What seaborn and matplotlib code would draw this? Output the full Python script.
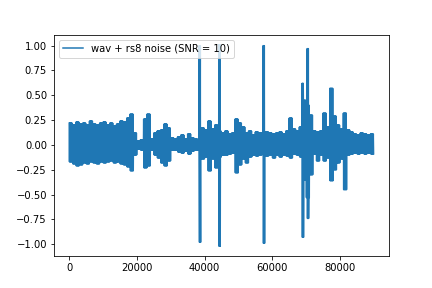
import numpy as np
import pandas as pd
import matplotlib
matplotlib.use("Agg")
import matplotlib.pyplot as plt
import seaborn as sns

# envelope of the noisy waveform, read per 1000-sample block
BLOCK = 1000
env_hi = [
    0.22, 0.20, 0.23, 0.21, 0.22, 0.20, 0.24, 0.21, 0.20, 0.22,
    0.23, 0.20, 0.22, 0.19, 0.21, 0.24, 0.23, 0.27, 0.31, 0.12,
    0.04, 0.05, 0.26, 0.31, 0.06, 0.12, 0.14, 0.15, 0.21, 0.17,
    0.07, 0.06, 0.08, 0.10, 0.06, 0.11, 0.07, 0.06, 0.05, 0.17,
    0.15, 0.24, 0.16, 0.20, 0.14, 0.12, 0.14, 0.11, 0.12, 0.26,
    0.22, 0.18, 0.12, 0.14, 0.10, 0.13, 0.12, 0.11, 0.13, 0.12,
    0.11, 0.12, 0.13, 0.11, 0.14, 0.27, 0.16, 0.14, 0.18, 0.45,
    0.40, 0.30, 0.14, 0.13, 0.14, 0.32, 0.18, 0.57, 0.29, 0.20,
    0.16, 0.32, 0.15, 0.13, 0.11, 0.10, 0.12, 0.11, 0.10, 0.11,
]
env_lo = [
    -0.17, -0.19, -0.21, -0.20, -0.18, -0.19, -0.17, -0.18, -0.19, -0.17,
    -0.18, -0.17, -0.16, -0.18, -0.17, -0.19, -0.20, -0.22, -0.26, -0.10,
    -0.04, -0.05, -0.23, -0.21, -0.05, -0.10, -0.13, -0.18, -0.21, -0.16,
    -0.05, -0.05, -0.07, -0.08, -0.06, -0.09, -0.06, -0.05, -0.05, -0.14,
    -0.12, -0.26, -0.14, -0.23, -0.12, -0.10, -0.10, -0.09, -0.08, -0.28,
    -0.20, -0.14, -0.18, -0.12, -0.10, -0.11, -0.10, -0.09, -0.11, -0.10,
    -0.13, -0.10, -0.12, -0.10, -0.11, -0.13, -0.09, -0.10, -0.12, -0.35,
    -0.53, -0.30, -0.09, -0.16, -0.10, -0.16, -0.13, -0.36, -0.25, -0.18,
    -0.14, -0.45, -0.10, -0.09, -0.08, -0.09, -0.08, -0.09, -0.08, -0.09,
]

# isolated clicks
spike_at = [38400, 44200, 57300, 68800, 70300]
spike_hi = [1.00, 1.01, 1.00, 0.62, 0.97]
spike_lo = [-0.98, -1.02, -0.99, -0.93, -0.74]

label = "wav + rs8 noise (SNR = 10)"

# min/max decimated trace: zig-zag between the envelope values in each block
xs, ys = [], []
steps = 12
for i, (hi, lo) in enumerate(zip(env_hi, env_lo)):
    for j in range(steps):
        xs.append(i * BLOCK + j * BLOCK / steps)
        ys.append(hi if j % 2 == 0 else lo)
for pos, hi, lo in zip(spike_at, spike_hi, spike_lo):
    for k in range(3):
        xs += [pos + 10 + k * 160, pos + 90 + k * 160]
        ys += [hi, lo]

df = pd.DataFrame({"sample": xs, "amp": ys}).sort_values("sample")

fig, ax = plt.subplots(figsize=(6, 4), dpi=72)
sns.lineplot(data=df, x="sample", y="amp", estimator=None, sort=False,
             color="#1f77b4", linewidth=1.5, label=label, ax=ax)
ax.set_xlabel("")
ax.set_ylabel("")
ax.legend(loc="upper left")
fig.savefig("out.png", dpi=72)
